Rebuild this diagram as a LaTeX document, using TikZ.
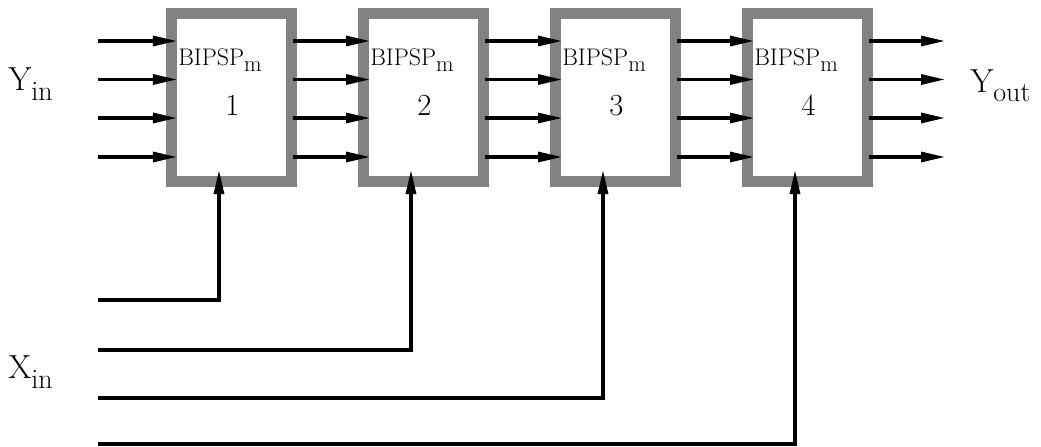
\documentclass[tikz,border=0pt]{standalone}
\usetikzlibrary{arrows.meta,calc}
\definecolor{blkgray}{RGB}{130,130,130}
\newcommand\mysub[3]{\raisebox{-#1}{\fontsize{#2}{#2}\selectfont #3}}
\begin{document}
\begin{tikzpicture}[x=0.75pt,y=-0.75pt,
  blk/.style={draw=blkgray, line width=7.9pt, minimum width=90pt, minimum height=126pt, outer sep=0pt, inner sep=0pt},
  arr/.style={line width=2.3pt, -{Triangle[length=18pt,width=7.5pt]}},
  lbl/.style={font=\fontsize{18}{20}\selectfont, anchor=base west, inner sep=0pt},
  num/.style={font=\fontsize{23}{26}\selectfont, anchor=base, inner sep=0pt},
  io/.style={font=\fontsize{25}{28}\selectfont, anchor=base west, inner sep=0pt}]
\useasboundingbox (0,0) rectangle (1041,446);
\foreach \i in {1,...,4} {
  \node[blk] (b\i) at ({231.5+192*(\i-1)},97.5) {};
  \node[lbl] (t\i) at ({178+192*(\i-1)},65) {BIPSP\mysub{5pt}{17}{m}};
  \node[num] (n\i) at ({232.5+192*(\i-1)},115) {\i};
}
\foreach \j/\yy in {1/41,2/79.5,3/118,4/157} {
  \coordinate (r\j) at (0,\yy);
  \coordinate (in\j) at (98,\yy);
  \coordinate (out\j) at (945,\yy);
  \draw[arr, shorten >=-4.1pt] (in\j) -- (b1.west |- r\j);
  \foreach \i/\k in {1/2,2/3,3/4} {
    \draw[arr, shorten <=1pt, shorten >=-4.9pt] (b\i.east |- r\j) -- (b\k.west |- r\j);
  }
  \draw[arr, shorten <=1pt] (b4.east |- r\j) -- (out\j);
}
\foreach \i/\fy in {1/300,2/350,3/398,4/444} {
  \coordinate (f\i) at (98,\fy);
  \draw[arr, shorten >=-8.6pt] (f\i) -| ([xshift=-9.4pt]b\i.south);
}
\node[io] (yin) at (8,90) {Y\mysub{8pt}{21}{in}};
\node[io] (yout) at (970,92) {Y\mysub{7pt}{21}{out}};
\node[io] (xin) at (8,378) {X\mysub{8pt}{21}{in}};
\end{tikzpicture}
\end{document}
